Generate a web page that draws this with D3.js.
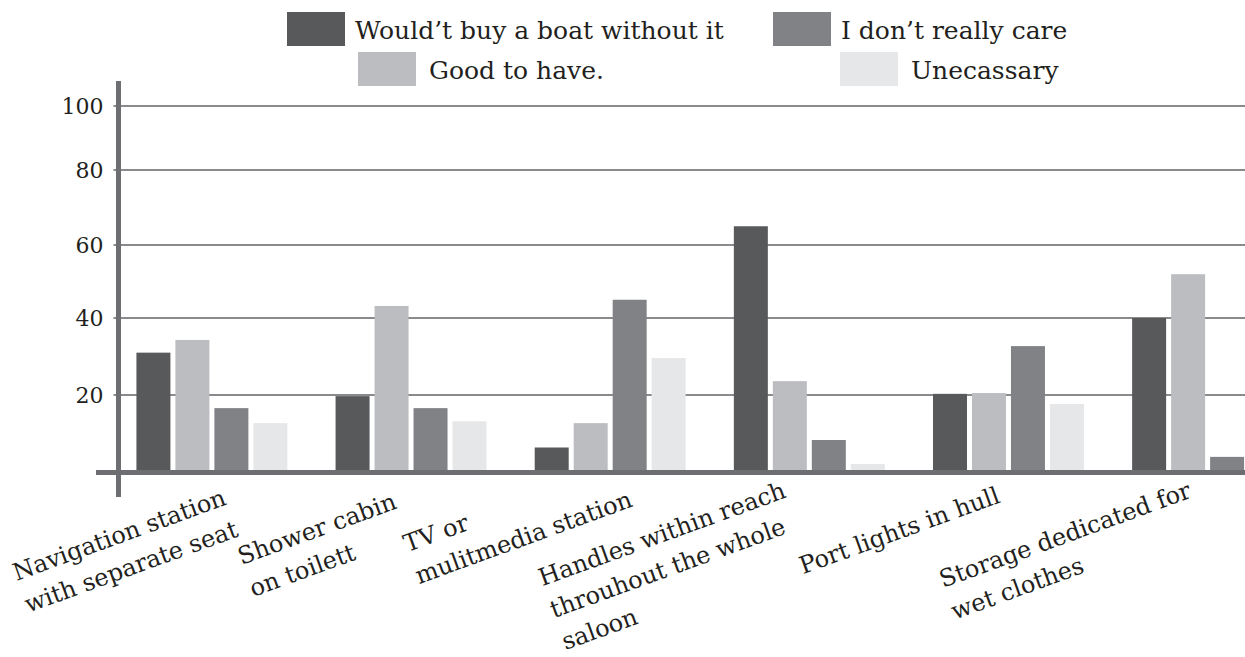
<!DOCTYPE html>
<html>
<head>
<meta charset="utf-8">
<script src="https://cdn.jsdelivr.net/npm/d3@7"></script>
<style>
  body { margin: 0; background: #fff; }
  svg text { font-family: "DejaVu Serif", serif; fill: #231f20; }
</style>
</head>
<body>
<div id="chart"></div>
<script>
// Categories (each label split into its printed lines)
const categories = [
    ['Navigation station', 'with separate seat'],
    ['Shower cabin', 'on toilett'],
    ['TV or', 'mulitmedia station'],
    ['Handles within reach', 'throuhout the whole', 'saloon'],
    ['Port lights in hull'],
    ['Storage dedicated for', 'wet clothes']
];

const seriesNames = ['Would\u2019t buy a boat without it', 'Good to have.', 'I don\u2019t really care', 'Unecassary'];
const seriesColors = ['#58595b', '#bcbdc0', '#808285', '#e6e7e8'];

// Values in percent, one array per series
const wouldntBuy = [31, 19.7, 6, 65, 20.3, 40];
const goodToHave = [34.3, 43.3, 12.5, 23.6, 20.5, 52];
const dontCare = [16.5, 16.5, 45, 8, 32.7, 3.5];
const unecassary = [12.5, 13, 29.6, 1.6, 17.6, 2];

const yTicks = [20, 40, 60, 80, 100];

const seriesValues = [wouldntBuy, goodToHave, dontCare, unecassary];

const width = 1245;
const height = 657;

const svg = d3.select('#chart')
    .append('svg')
    .attr('width', width)
    .attr('height', height);

// Scales (the printed gridlines are not evenly spaced, so y is piecewise)
const axisX = 118.5;
const keys = categories.map((c, i) => i);

const x0 = d3.scaleBand()
    .domain(keys)
    .range([axisX, 1301])
    .paddingInner(0.242)
    .paddingOuter(0.09);

const x1 = d3.scaleBand()
    .domain(d3.range(seriesNames.length))
    .range([0, x0.bandwidth()])
    .paddingInner(0.128);

const y = d3.scaleLinear()
    .domain([0, 20, 40, 60, 80, 100])
    .range([470, 395, 318, 245, 170, 106]);

// Gridlines
svg.append('g')
    .selectAll('line')
    .data(yTicks)
    .enter()
    .append('line')
    .attr('x1', axisX - 5)
    .attr('x2', width)
    .attr('y1', d => y(d))
    .attr('y2', d => y(d))
    .attr('stroke', '#8a8a8c')
    .attr('stroke-width', 2);

// Tick labels
svg.append('g')
    .selectAll('text')
    .data(yTicks)
    .enter()
    .append('text')
    .attr('x', axisX - 15)
    .attr('y', d => y(d))
    .attr('dy', '0.36em')
    .attr('text-anchor', 'end')
    .style('font-size', '22px')
    .text(d => d);

// Bars
const groups = svg.append('g')
    .selectAll('g')
    .data(keys)
    .enter()
    .append('g')
    .attr('transform', d => `translate(${x0(d)},0)`);

groups.selectAll('rect')
    .data(k => seriesValues.map((vals, s) => ({ s: s, v: vals[k] })))
    .enter()
    .append('rect')
    .attr('x', d => x1(d.s))
    .attr('width', x1.bandwidth())
    .attr('y', d => y(d.v))
    .attr('height', d => y(0) - y(d.v))
    .attr('fill', d => seriesColors[d.s]);

// Axes
svg.append('line')
    .attr('x1', 96)
    .attr('x2', width)
    .attr('y1', y(0) + 2.5)
    .attr('y2', y(0) + 2.5)
    .attr('stroke', '#6d6e71')
    .attr('stroke-width', 5);

svg.append('line')
    .attr('x1', axisX)
    .attr('x2', axisX)
    .attr('y1', 81)
    .attr('y2', 497)
    .attr('stroke', '#6d6e71')
    .attr('stroke-width', 5);

// Category labels, rotated; [dx from band centre, baseline y of first line]
const labelAnchor = [[16, 504], [-13, 508], [12, 474], [-22, 497], [-7, 502], [-15, 497]];
const lineHeight = 34;

const labels = svg.append('g')
    .selectAll('g')
    .data(keys)
    .enter()
    .append('g')
    .attr('transform', d => {
        const cx = x0(d) + x0.bandwidth() / 2 + labelAnchor[d][0];
        return `translate(${cx},${labelAnchor[d][1]}) rotate(-20)`;
    });

labels.each(function(d) {
    const g = d3.select(this);
    const texts = g.selectAll('text')
        .data(categories[d])
        .enter()
        .append('text')
        .attr('y', (line, i) => i * lineHeight)
        .style('font-size', '24px')
        .text(line => line);
    let w = 0;
    texts.each(function() { w = Math.max(w, this.getComputedTextLength()); });
    texts.attr('x', -w);
});

// Legend: two columns, second row shifted right
const legendPos = [[287, 12], [358, 52], [773, 12], [840, 52]];
const legend = svg.append('g')
    .selectAll('g')
    .data(seriesNames)
    .enter()
    .append('g')
    .attr('transform', (d, i) => `translate(${legendPos[i][0]},${legendPos[i][1]})`);

legend.append('rect')
    .attr('width', 58)
    .attr('height', 34)
    .attr('fill', (d, i) => seriesColors[i]);

legend.append('text')
    .attr('x', (d, i) => i % 2 === 0 ? 68 : 71)
    .attr('y', 27)
    .style('font-size', '25px')
    .text(d => d);
</script>
</body>
</html>
